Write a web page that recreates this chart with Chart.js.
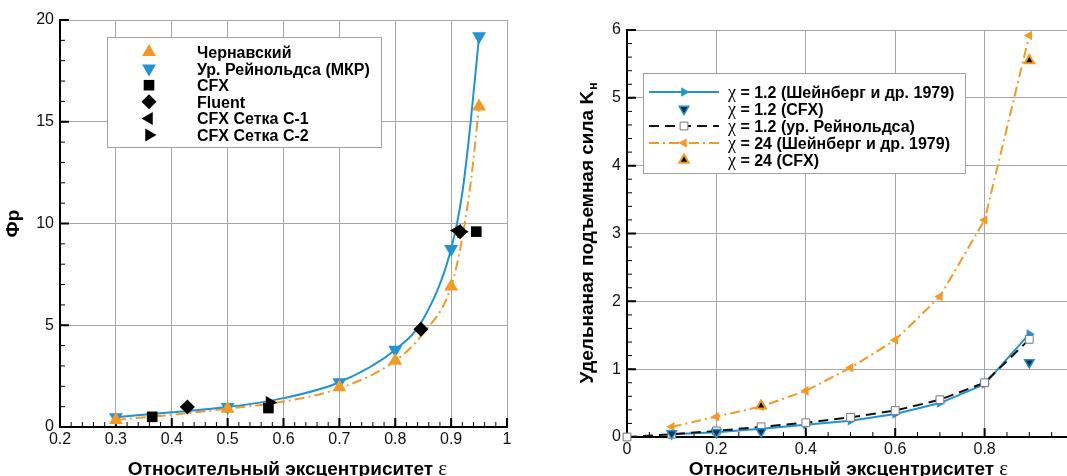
<!DOCTYPE html>
<html lang="ru">
<head>
<meta charset="utf-8">
<title>Фр и удельная подъемная сила</title>
<script src="https://cdn.jsdelivr.net/npm/chart.js@4.4.1/dist/chart.umd.min.js"></script>
<style>
  html, body { margin: 0; padding: 0; background: #fff; }
  #wrap { position: relative; width: 1067px; height: 476px; overflow: hidden; }
  #leftChart { position: absolute; left: 0; top: 0; }
  #rightChart { position: absolute; left: 540px; top: 0; }
</style>
</head>
<body>
<div id="wrap">
  <canvas id="leftChart" width="530" height="476"></canvas>
  <canvas id="rightChart" width="560" height="476"></canvas>
</div>
<script>
// ---------- left panel: Фр vs eccentricity ----------
const leftXTicks = [0.2, 0.3, 0.4, 0.5, 0.6, 0.7, 0.8, 0.9, 1];
const leftYTicks = [0, 5, 10, 15, 20];

const chernX = [0.3, 0.5, 0.7, 0.8, 0.9, 0.95];
const chernY = [0.35, 0.9, 1.95, 3.25, 6.9, 15.75];
const reynX = [0.3, 0.5, 0.7, 0.8, 0.9, 0.95];
const reynY = [0.48, 0.98, 2.2, 3.8, 8.75, 19.2];

// smooth curves drawn behind the markers
const curveX = [0.3, 0.4, 0.5, 0.6, 0.7, 0.8, 0.85, 0.9, 0.92, 0.935, 0.95];
const chernCurveY = [0.35, 0.6, 0.9, 1.25, 1.9, 3.25, 4.6, 6.9, 9.3, 12.0, 15.75];
const reynCurveY = [0.48, 0.72, 0.98, 1.42, 2.2, 3.8, 5.3, 8.75, 11.5, 15.0, 19.2];

const cfxX = [0.365, 0.573, 0.945];
const cfxY = [0.5, 0.93, 9.6];
const fluentX = [0.428, 0.846, 0.916];
const fluentY = [0.98, 4.8, 9.6];
const grid1X = [0.911];
const grid1Y = [9.65];
const grid2X = [0.575, 0.918];
const grid2Y = [1.2, 9.6];

// ---------- right panel: K_н vs eccentricity ----------
const rightXTicks = [0, 0.2, 0.4, 0.6, 0.8, 1];
const rightYTicks = [0, 1, 2, 3, 4, 5, 6];

const epsX = [0.1, 0.2, 0.3, 0.4, 0.5, 0.6, 0.7, 0.8, 0.9];
const k12Shein = [0.04, 0.07, 0.12, 0.18, 0.24, 0.34, 0.5, 0.78, 1.52];
const k12CfxX = [0.1, 0.2, 0.3, 0.9];
const k12CfxY = [0.05, 0.07, 0.08, 1.1];
const k12ReynX = [0, 0.1, 0.2, 0.3, 0.4, 0.5, 0.6, 0.7, 0.8, 0.9];
const k12ReynY = [0, 0.04, 0.09, 0.15, 0.21, 0.29, 0.39, 0.55, 0.8, 1.44];
const k24Shein = [0.15, 0.3, 0.45, 0.68, 1.02, 1.43, 2.07, 3.2, 5.92];
const k24CfxX = [0.3, 0.9];
const k24CfxY = [0.46, 5.55];

const ORANGE = '#f39a26';
const BLUE = '#2192d3';
const FONT = '"Liberation Sans", Arial, sans-serif';
const GREEK = '"Liberation Serif", "DejaVu Serif", serif';

const pts = (xs, ys) => xs.map((x, i) => ({ x: x, y: ys[i] }));

// text with Greek letters set in the serif face
function drawMixed(ctx, text, x, y, size, align) {
    const runs = text.match(/[\u03b1-\u03c9]+|[^\u03b1-\u03c9]+/g);
    const fontOf = r => /[\u03b1-\u03c9]/.test(r) ? `${size + 2}px ${GREEK}` : `bold ${size}px ${FONT}`;
    const widths = runs.map(r => { ctx.font = fontOf(r); return ctx.measureText(r).width; });
    const total = widths.reduce((a, b) => a + b, 0);
    let cx = align === 'center' ? x - total / 2 : x;
    ctx.textAlign = 'left';
    runs.forEach((r, i) => {
        ctx.font = fontOf(r);
        ctx.fillText(r, cx, y);
        cx += widths[i];
    });
    return total;
}

function drawMarker(ctx, ds, x, y) {
    const r = ds.pointRadius;
    ctx.save();
    ctx.translate(x, y);
    ctx.rotate((ds.pointRotation || 0) * Math.PI / 180);
    ctx.beginPath();
    if (ds.pointStyle === 'triangle') {
        for (let i = 0; i < 3; i++) {
            const a = i * 2 * Math.PI / 3;
            ctx.lineTo(Math.sin(a) * r, -Math.cos(a) * r);
        }
    } else if (ds.pointStyle === 'rect') {
        const s = r * Math.SQRT1_2;
        ctx.rect(-s, -s, 2 * s, 2 * s);
    } else if (ds.pointStyle === 'rectRot') {
        ctx.moveTo(0, -r); ctx.lineTo(r, 0); ctx.lineTo(0, r); ctx.lineTo(-r, 0);
    }
    ctx.closePath();
    ctx.fillStyle = ds.pointBackgroundColor;
    ctx.fill();
    if (ds.pointBorderWidth) {
        ctx.lineWidth = ds.pointBorderWidth;
        ctx.strokeStyle = ds.pointBorderColor;
        ctx.stroke();
    }
    ctx.restore();
}

// inward major/minor tick marks on the left and bottom axes
const innerTicks = {
    id: 'innerTicks',
    beforeDatasetsDraw(chart, args, o) {
        const { ctx, chartArea: a, scales } = chart;
        ctx.save();
        ctx.strokeStyle = '#000';
        const mark = (scale, step, len, width) => {
            ctx.lineWidth = width;
            ctx.beginPath();
            const n = Math.round((scale.max - scale.min) / step);
            for (let i = 0; i <= n; i++) {
                const p = scale.getPixelForValue(scale.min + i * step);
                if (scale.isHorizontal()) {
                    ctx.moveTo(p, a.bottom); ctx.lineTo(p, a.bottom - len);
                } else {
                    ctx.moveTo(a.left, p); ctx.lineTo(a.left + len, p);
                }
            }
            ctx.stroke();
        };
        mark(scales.x, o.xMinor, 5, 1);
        mark(scales.x, o.xMajor, 9, 2);
        mark(scales.y, o.yMinor, 5, 1);
        mark(scales.y, o.yMajor, 9, 2);
        ctx.restore();
    }
};

// axis titles (with an optional subscript on the y title)
const axisTitles = {
    id: 'axisTitles',
    afterDraw(chart, args, o) {
        const { ctx, chartArea: a } = chart;
        ctx.save();
        ctx.fillStyle = '#000';
        ctx.textBaseline = 'alphabetic';
        drawMixed(ctx, o.x, (a.left + a.right) / 2 + o.xShift, o.xTitleY, 19, 'center');

        ctx.translate(o.yTitleX, (a.top + a.bottom) / 2);
        ctx.rotate(-Math.PI / 2);
        ctx.font = `bold 19px ${FONT}`;
        const w = ctx.measureText(o.y).width;
        let sw = 0;
        if (o.ySub) {
            ctx.font = `bold 12px ${FONT}`;
            sw = ctx.measureText(o.ySub).width;
        }
        ctx.textAlign = 'left';
        ctx.font = `bold 19px ${FONT}`;
        ctx.fillText(o.y, -(w + sw) / 2, 7);
        if (o.ySub) {
            ctx.font = `bold 12px ${FONT}`;
            ctx.fillText(o.ySub, -(w + sw) / 2 + w + 1, 11);
        }
        ctx.restore();
    }
};

// boxed legend placed inside the plot
const legendBox = {
    id: 'legendBox',
    afterDraw(chart, args, o) {
        const ctx = chart.ctx;
        ctx.save();
        ctx.fillStyle = '#fff';
        ctx.fillRect(o.left, o.top, o.width, o.height);
        ctx.strokeStyle = '#a0a0a0';
        ctx.lineWidth = 1;
        ctx.strokeRect(o.left + 0.5, o.top + 0.5, o.width, o.height);
        let y = o.firstRow;
        chart.data.datasets.filter(d => !d.hideInLegend).forEach(ds => {
            if (ds.showLine) {
                ctx.save();
                ctx.strokeStyle = ds.borderColor;
                ctx.lineWidth = ds.borderWidth;
                ctx.setLineDash(ds.borderDash || []);
                ctx.beginPath();
                ctx.moveTo(o.lineFrom, y);
                ctx.lineTo(o.lineTo, y);
                ctx.stroke();
                ctx.restore();
            }
            drawMarker(ctx, ds, o.markerX, y);
            ctx.fillStyle = '#000';
            ctx.textBaseline = 'alphabetic';
            drawMixed(ctx, ds.label, o.textX, y + 6, 16, 'left');
            y += o.rowGap;
        });
        ctx.restore();
    }
};

function axes(xTicks, yTicks, xMin, xMax, yMax, yWidth, xHeight) {
    const tickFont = { family: FONT, size: 16 };
    return {
        x: {
            type: 'linear', min: xMin, max: xMax,
            afterBuildTicks: s => { s.ticks = xTicks.map(v => ({ value: v })); },
            afterFit: s => { s.height = xHeight; },
            grid: { color: '#a6a6a6', lineWidth: 1, drawTicks: false },
            border: { display: true, color: '#000', width: 2 },
            ticks: { color: '#111', font: tickFont, padding: 3, maxRotation: 0, autoSkip: false,
                     callback: v => String(v) }
        },
        y: {
            type: 'linear', min: 0, max: yMax,
            afterBuildTicks: s => { s.ticks = yTicks.map(v => ({ value: v })); },
            afterFit: s => { s.width = yWidth; },
            grid: { color: '#a6a6a6', lineWidth: 1, drawTicks: false },
            border: { display: true, color: '#000', width: 2 },
            ticks: { color: '#111', font: tickFont, padding: 6, autoSkip: false,
                     callback: v => String(v) }
        }
    };
}

const markerSet = (label, xs, ys, style, rot, r, fill, edge, edgeW, order) => ({
    label: label, data: pts(xs, ys), showLine: false,
    pointStyle: style, pointRotation: rot, pointRadius: r,
    pointBackgroundColor: fill, pointBorderColor: edge, pointBorderWidth: edgeW,
    order: order, clip: false
});

new Chart(document.getElementById('leftChart'), {
    type: 'scatter',
    data: {
        datasets: [
            markerSet('Чернавский', chernX, chernY, 'triangle', 0, 8, ORANGE, ORANGE, 0, 1),
            markerSet('Ур. Рейнольдса (МКР)', reynX, reynY, 'triangle', 180, 8, BLUE, BLUE, 0, 1),
            markerSet('CFX', cfxX, cfxY, 'rect', 0, 7.5, '#000', '#000', 0, 0),
            markerSet('Fluent', fluentX, fluentY, 'rectRot', 0, 7.5, '#000', '#000', 0, 0),
            markerSet('CFX Сетка С-1', grid1X, grid1Y, 'triangle', -90, 7.5, '#000', '#000', 0, 0),
            markerSet('CFX Сетка С-2', grid2X, grid2Y, 'triangle', 90, 7.5, '#000', '#000', 0, 0),
            {
                label: 'Чернавский (кривая)', hideInLegend: true, order: 3, clip: false,
                data: pts(curveX, chernCurveY), showLine: true, pointRadius: 0,
                borderColor: ORANGE, borderWidth: 2, borderDash: [10, 4, 2, 4],
                cubicInterpolationMode: 'monotone'
            },
            {
                label: 'Ур. Рейнольдса (кривая)', hideInLegend: true, order: 2, clip: false,
                data: pts(curveX, reynCurveY), showLine: true, pointRadius: 0,
                borderColor: BLUE, borderWidth: 2,
                cubicInterpolationMode: 'monotone'
            }
        ]
    },
    options: {
        responsive: false,
        animation: false,
        events: [],
        locale: 'en-US',
        layout: { padding: { left: 0, top: 20, right: 23, bottom: 0 } },
        scales: axes(leftXTicks, leftYTicks, 0.2, 1, 20, 60, 49),
        plugins: {
            legend: { display: false },
            tooltip: { enabled: false },
            innerTicks: { xMajor: 0.1, xMinor: 0.02, yMajor: 5, yMinor: 1 },
            axisTitles: { x: 'Относительный эксцентриситет ε', xTitleY: 475, xShift: 4,
                          y: 'Фр', yTitleX: 12 },
            legendBox: { left: 107, top: 37, width: 274, height: 110, markerX: 149, textX: 197,
                         firstRow: 52, rowGap: 16.6 }
        }
    },
    plugins: [innerTicks, axisTitles, legendBox]
});

new Chart(document.getElementById('rightChart'), {
    type: 'scatter',
    data: {
        datasets: [
            {
                label: 'χ = 1.2 (Шейнберг и др. 1979)', data: pts(epsX, k12Shein), showLine: true,
                borderColor: BLUE, borderWidth: 2,
                pointStyle: 'triangle', pointRotation: 90, pointRadius: 5.5,
                pointBackgroundColor: BLUE, pointBorderColor: BLUE, pointBorderWidth: 0,
                order: 2, clip: false
            },
            markerSet('χ = 1.2 (CFX)', k12CfxX, k12CfxY, 'triangle', 180, 5.5, '#0c2c4c', BLUE, 1.5, 0),
            {
                label: 'χ = 1.2 (ур. Рейнольдса)', data: pts(k12ReynX, k12ReynY), showLine: true,
                borderColor: '#111', borderWidth: 2, borderDash: [10, 6],
                pointStyle: 'rect', pointRadius: 5.5,
                pointBackgroundColor: '#fff', pointBorderColor: '#777', pointBorderWidth: 1,
                order: 1, clip: false
            },
            {
                label: 'χ = 24 (Шейнберг и др. 1979)', data: pts(epsX, k24Shein), showLine: true,
                borderColor: ORANGE, borderWidth: 2, borderDash: [10, 4, 2, 4],
                pointStyle: 'triangle', pointRotation: -90, pointRadius: 5.5,
                pointBackgroundColor: ORANGE, pointBorderColor: ORANGE, pointBorderWidth: 0,
                order: 3, clip: false
            },
            markerSet('χ = 24 (CFX)', k24CfxX, k24CfxY, 'triangle', 0, 5.5, '#000', ORANGE, 2, 0)
        ]
    },
    options: {
        responsive: false,
        animation: false,
        events: [],
        locale: 'en-US',
        layout: { padding: { left: 0, top: 30, right: 26, bottom: 0 } },
        scales: axes(rightXTicks, rightYTicks, 0, 1, 6, 87, 39),
        plugins: {
            legend: { display: false },
            tooltip: { enabled: false },
            innerTicks: { xMajor: 0.2, xMinor: 0.05, yMajor: 1, yMinor: 0.2 },
            axisTitles: { x: 'Относительный эксцентриситет ε', xTitleY: 475, xShift: -2,
                          y: 'Удельнаная подъемная сила K', ySub: 'н', yTitleX: 46 },
            legendBox: { left: 103, top: 73, width: 322, height: 100, lineFrom: 109, lineTo: 179,
                         markerX: 144, textX: 188, firstRow: 92, rowGap: 17 }
        }
    },
    plugins: [innerTicks, axisTitles, legendBox]
});
</script>
</body>
</html>
